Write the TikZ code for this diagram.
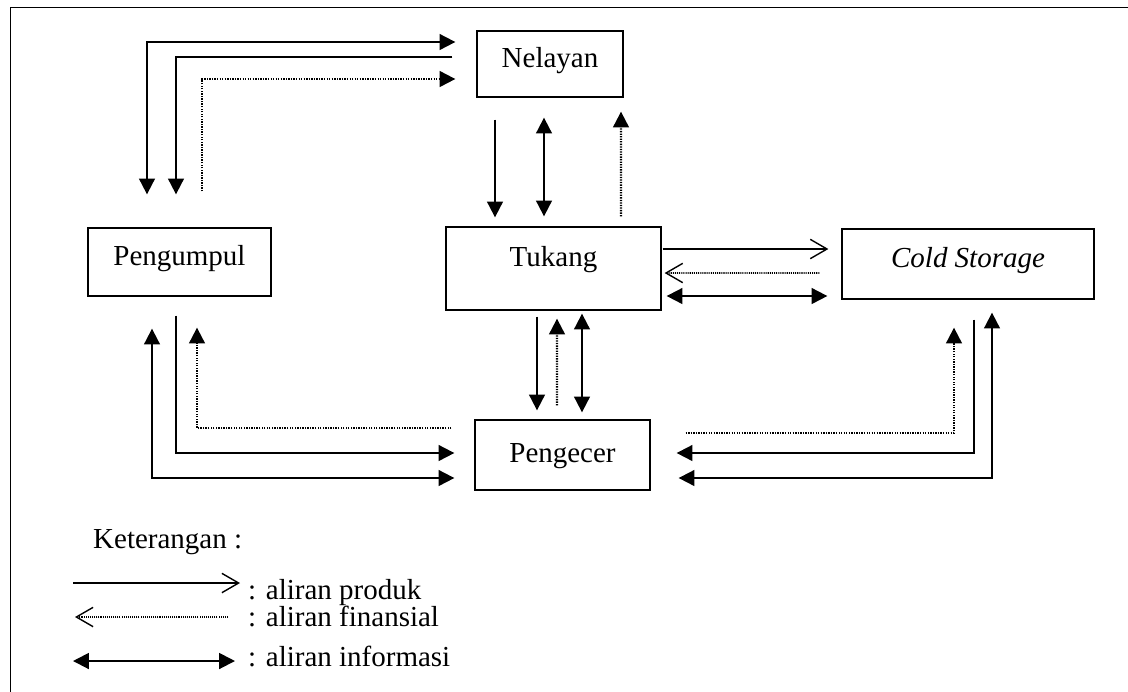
\documentclass[tikz,border=0pt]{standalone}
\usepackage{fontspec}
\setmainfont{Liberation Serif}
\usetikzlibrary{arrows.meta, calc}

\begin{document}
\begin{tikzpicture}[x=0.02cm, y=-0.02cm,
      font=\fontsize{16.5}{20}\selectfont,
      box/.style={draw, line width=0.75pt, inner sep=0pt, text height=11pt, text depth=7pt},
      prod/.style={line width=1.1pt, -{Triangle[length=9pt, width=9pt]}},
      prodo/.style={line width=0.8pt, -{Straight Barb[length=9.5pt, width=11pt, line width=0.8pt]}},
      fin/.style={line width=1.2pt, dash pattern=on 0.75pt off 0.7pt, -{Triangle[length=9pt, width=9pt]}},
      fino/.style={line width=0.9pt, dash pattern=on 0.6pt off 0.6pt, -{Straight Barb[length=9.5pt, width=11pt, line width=0.8pt]}},
      info/.style={line width=1.1pt, {Triangle[length=9pt, width=9pt]}-{Triangle[length=9pt, width=9pt]}},
      frame/.style={line width=0.75pt}]
    \useasboundingbox (0,0) rectangle (1128,691);
    \draw[frame] (10.5,720) |- (1150,7.5);
    \node[box, minimum width=2.92cm, minimum height=1.32cm]                  (nel)  at (550,64)    {Nelayan};
    \node[box, minimum width=3.66cm, minimum height=1.36cm]                  (pgm)  at (179.5,262) {Pengumpul};
    \node[box, minimum width=4.30cm, minimum height=1.66cm, text depth=13.6pt] (tkg) at (553.5,268.5) {Tukang};
    \node[box, minimum width=5.04cm, minimum height=1.40cm]                  (cold) at (968,264)   {\textit{Cold Storage}};
    \node[box, minimum width=3.50cm, minimum height=1.40cm, text depth=2.2pt] (pgc)  at (562.5,455) {Pengecer};
    \draw[info] ($(pgm.north)+(-32.5,-33)$) |- ($(nel.west)+(-21,-22)$);
    \draw[prod] ($(nel.west)+(-24,-7)$) -| ($(pgm.north)+(-3.5,-33)$);
    \draw[fin]  ($(pgm.north)+(22.5,-36)$) |- ($(nel.west)+(-21,15)$);
    \draw[prod] ($(nel.south)+(-55,22)$) -- ($(tkg.north)+(-58.5,-9)$);
    \draw[info] ($(nel.south)+(-6,20)$) -- ($(tkg.north)+(-9.5,-10)$);
    \draw[fin]  ($(tkg.north)+(67.5,-10)$) -- ($(nel.south)+(71,14)$);
    \draw[prodo]($(tkg.east)+(1,-19.5)$) -- ($(cold.west)+(-13,-15)$);
    \draw[fino] ($(cold.west)+(-22,9)$) -- ($(tkg.east)+(3,4.5)$);
    \draw[info] ($(tkg.east)+(5,27.5)$) -- ($(cold.west)+(-14,32)$);
    \draw[prod] ($(tkg.south)+(-16.5,6)$) -- ($(pgc.north)+(-25.5,-9)$);
    \draw[fin]  ($(pgc.north)+(-5.5,-14)$) -- ($(tkg.south)+(3.5,8)$);
    \draw[info] ($(tkg.south)+(28.5,3)$) -- ($(pgc.north)+(19.5,-7)$);
    \draw[prod] ($(pgm.south)+(-3.5,19)$) |- ($(pgc.west)+(-20,-2)$);
    \draw[fin]  ($(pgc.west)+(-23,-27)$) -| ($(pgm.south)+(17.5,31)$);
    \draw[info] ($(pgm.south)+(-27.5,32)$) |- ($(pgc.west)+(-20,23)$);
    \draw[fin]  ($(pgc.east)+(35,-22)$) -| ($(cold.south)+(-14,28)$);
    \draw[prod] ($(cold.south)+(6,20)$) |- ($(pgc.east)+(26,-2)$);
    \draw[info] ($(cold.south)+(24,13)$) |- ($(pgc.east)+(28,23)$);
    \node[anchor=base west] (ket)   at (87,548)  {Keterangan :};
    \node[anchor=base west] (lprod) at (242,599) {: aliran produk};
    \node[anchor=base west] (lfin)  at (242,626) {: aliran finansial};
    \node[anchor=base west] (linf)  at (242,666) {: aliran informasi};
    \draw[prodo]($(lprod.base west)+(-169,-16)$) -- ($(lprod.base west)+(-2,-16)$);
    \draw[fino] ($(lfin.base west)+(-14,-9)$) -- ($(lfin.base west)+(-167,-9)$);
    \draw[info] ($(linf.base west)+(-169,-5)$) -- ($(linf.base west)+(-7,-5)$);
  \end{tikzpicture}
\end{document}
